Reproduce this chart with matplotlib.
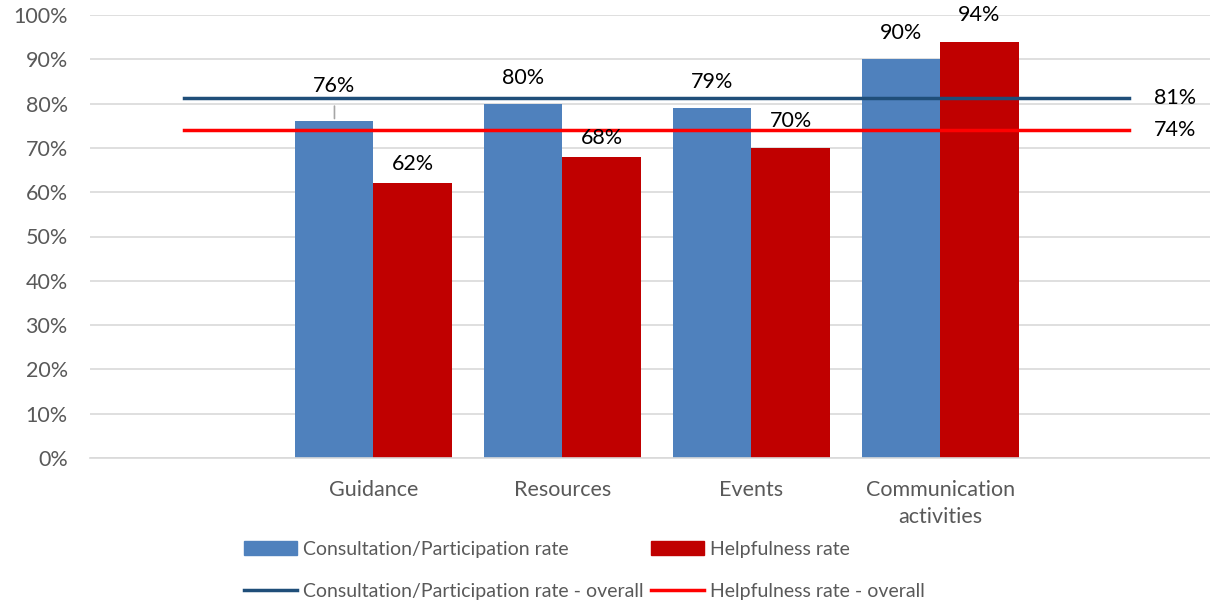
import numpy as np
import matplotlib.pyplot as plt
from matplotlib.patches import Patch
from matplotlib.lines import Line2D

plt.rcParams['font.family'] = ['Lato', 'DejaVu Sans']

# categories (blank slots at both ends, like the source chart)
categories = ['', 'Guidance', 'Resources', 'Events', 'Communication\nactivities', '']
participation = [np.nan, 76, 80, 79, 90, np.nan]
helpfulness = [np.nan, 62, 68, 70, 94, np.nan]
participation_overall = 81.3
helpfulness_overall = 74

blue = '#4F81BD'
red = '#C00000'
blue_line = '#1F4E79'
red_line = '#FF0000'
grey_text = '#595959'
fs = 15.5

fig = plt.figure(figsize=(12.1, 6.03), dpi=100)
ax = fig.add_axes([90 / 1210, 145 / 603, 1120 / 1210, 443 / 603])

x = np.arange(len(categories))
w = 0.413
ax.bar(x - w / 2, participation, w, color=blue, zorder=2)
ax.bar(x + w / 2, helpfulness, w, color=red, zorder=2)

ax.plot([x[0], x[-1]], [participation_overall] * 2, color=blue_line, lw=2.5, zorder=3)
ax.plot([x[0], x[-1]], [helpfulness_overall] * 2, color=red_line, lw=2.5, zorder=3)
ax.text(x[-1] + 0.24, participation_overall, f'{participation_overall:.0f}%',
        ha='center', va='center', fontsize=fs)
ax.text(x[-1] + 0.24, helpfulness_overall, f'{helpfulness_overall:.0f}%',
        ha='center', va='center', fontsize=fs)

# data labels
for xi, v in zip(x, participation):
    if np.isnan(v):
        continue
    off = 26
    if v == 76:
        off = 35
        ax.annotate('', xy=(xi - w / 2, v), xytext=(0, 18), textcoords='offset pixels',
                    arrowprops=dict(arrowstyle='-', color='#A6A6A6', lw=1.2))
    ax.annotate(f'{v:.0f}%', (xi - w / 2, v), xytext=(0, off), textcoords='offset pixels',
                ha='center', va='center', fontsize=fs)
for xi, v in zip(x, helpfulness):
    if np.isnan(v):
        continue
    off = 19 if v < 70 else 27
    ax.annotate(f'{v:.0f}%', (xi + w / 2, v), xytext=(0, off), textcoords='offset pixels',
                ha='center', va='center', fontsize=fs)

ax.set_xlim(-0.5, 5.426)
ax.set_ylim(0, 100)
ax.set_yticks(np.arange(0, 101, 10))
ax.set_yticklabels([f'{t}%' for t in range(0, 101, 10)])
ax.set_xticks(x)
ax.set_xticklabels(categories, linespacing=1.4)
ax.tick_params(axis='both', length=0, labelsize=fs, labelcolor=grey_text)
ax.tick_params(axis='x', pad=16)
ax.tick_params(axis='y', pad=16)
ax.grid(axis='y', color='#D9D9D9', lw=1.2, zorder=0)
for s in ['top', 'right', 'left']:
    ax.spines[s].set_visible(False)
ax.spines['bottom'].set_color('#D9D9D9')
ax.spines['bottom'].set_linewidth(1.2)

handles = [Patch(color=blue), Line2D([], [], color=blue_line, lw=2.5),
           Patch(color=red), Line2D([], [], color=red_line, lw=2.5)]
labels = ['Consultation/Participation rate', 'Consultation/Participation rate - overall',
          'Helpfulness rate', 'Helpfulness rate - overall']
fig.legend(handles, labels, ncol=2, loc='upper left', bbox_to_anchor=(244 / 1210, 1 - 541 / 603),
           frameon=False, fontsize=14, labelcolor=grey_text, handlelength=2.75,
           handleheight=0.75, handletextpad=0.3, columnspacing=0.35, labelspacing=1.3,
           borderaxespad=0, borderpad=0)

fig.savefig('out.png', dpi=100)
